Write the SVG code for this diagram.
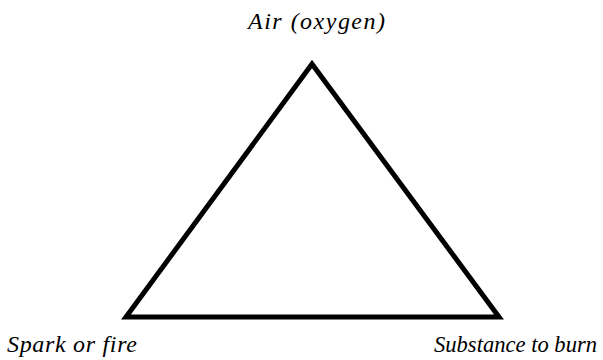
<svg xmlns="http://www.w3.org/2000/svg" width="603" height="360" viewBox="0 0 603 360">
<style>
.edge{fill:none;stroke:#000;stroke-width:5;stroke-linejoin:miter}
</style>
<rect width="603" height="360" fill="#fff"/>
<g id="connectors">
<polygon class="edge" points="312,64 126,317 499,317"/>
</g>
<g font-family="Liberation Serif, serif" font-style="italic" font-size="24" fill="#000">
<g id="air"><text x="248" y="29" textLength="137" lengthAdjust="spacing">Air (oxygen)</text></g>
<g id="spark"><text x="7" y="352" textLength="130" lengthAdjust="spacing">Spark or fire</text></g>
<g id="substance"><text x="434" y="352" textLength="163" lengthAdjust="spacingAndGlyphs">Substance to burn</text></g>
</g>
</svg>
